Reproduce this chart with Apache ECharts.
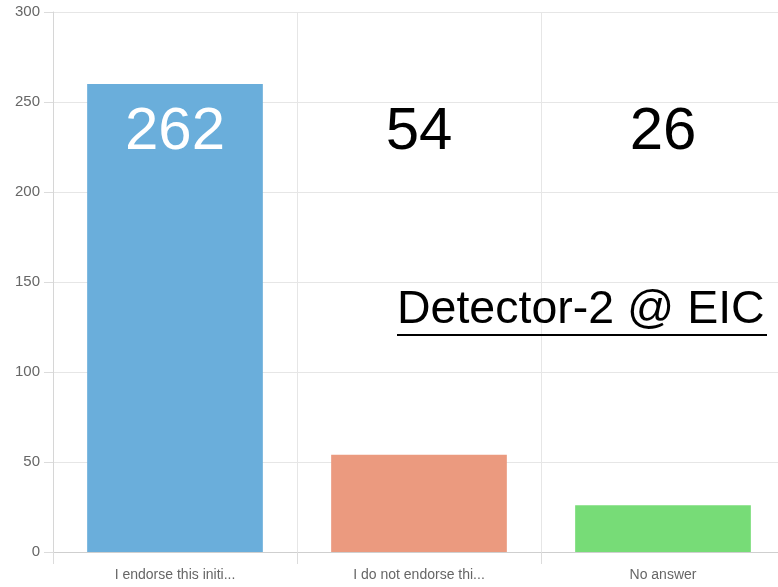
<!DOCTYPE html>
<html lang="en">
<head>
    <meta charset="UTF-8">
    <title>Detector-2 @ EIC</title>
    <script src="https://cdn.jsdelivr.net/npm/echarts@6/dist/echarts.min.js"></script>
    <style>
        html, body { margin: 0; padding: 0; background: #fff; overflow: hidden; }
    </style>
</head>
<body>
<!-- a bit wider than the window: the plot runs past the right edge -->
<div id="main" style="width: 785px;height:587px;"></div>
<script type="text/javascript">
    // data
    var categories = ['I endorse this initi...', 'I do not endorse thi...', 'No answer'];
    var counts = [260, 54, 26];
    var countLabels = ['262', '54', '26'];
    var barColors = ['#6aaedb', '#eb9a7f', '#77dc77'];
    var labelColors = ['#fff', '#000', '#000'];
    var yTicks = [0, 50, 100, 150, 200, 250, 300];

    var myChart = echarts.init(document.getElementById('main'));

    var fontFamily = '"Liberation Sans", Arial, sans-serif';

    myChart.setOption({
        backgroundColor: '#fff',
        animation: false,
        grid: { left: 53, right: 0, top: 12, bottom: 35 },
        xAxis: {
            type: 'category',
            data: categories,
            axisLine: { lineStyle: { color: '#cfcfcf' } },
            axisTick: { show: true, length: 12, lineStyle: { color: '#dcdcdc' } },
            axisLabel: { color: '#666', fontSize: 14, fontFamily: fontFamily, margin: 16 },
            splitLine: { show: true, lineStyle: { color: '#e6e6e6' } }
        },
        yAxis: {
            type: 'value',
            min: yTicks[0],
            max: yTicks[yTicks.length - 1],
            interval: 50,
            axisLine: { show: true, lineStyle: { color: '#d6d6d6' } },
            axisTick: { show: true, length: 9, lineStyle: { color: '#dcdcdc' } },
            axisLabel: { color: '#666', fontSize: 15, fontFamily: fontFamily, margin: 13 },
            splitLine: { lineStyle: { color: '#e6e6e6' } }
        },
        series: [{
            type: 'bar',
            barWidth: '72%',
            data: counts.map(function (v, i) {
                return { value: v, itemStyle: { color: barColors[i] } };
            })
        }]
    });

    // big count labels and the title, placed on the chart scales
    var graphics = [];
    for (var i = 0; i < categories.length; i++) {
        var p = myChart.convertToPixel({ gridIndex: 0 }, [i, 233]);
        graphics.push({
            type: 'text',
            z: 100,
            x: p[0], y: p[1],
            style: {
                text: countLabels[i],
                fill: labelColors[i],
                font: '60px ' + fontFamily,
                textAlign: 'center',
                textVerticalAlign: 'middle'
            }
        });
    }
    graphics.push({
        type: 'text',
        z: 100,
        left: 397, top: 287,
        style: { text: 'Detector-2 @ EIC', fill: '#000', font: '46.5px ' + fontFamily }
    });
    graphics.push({
        type: 'rect',
        z: 100,
        shape: { x: 397, y: 334, width: 370, height: 2 },
        style: { fill: '#000' }
    });
    myChart.setOption({ graphic: graphics });
</script>
</body>
</html>
